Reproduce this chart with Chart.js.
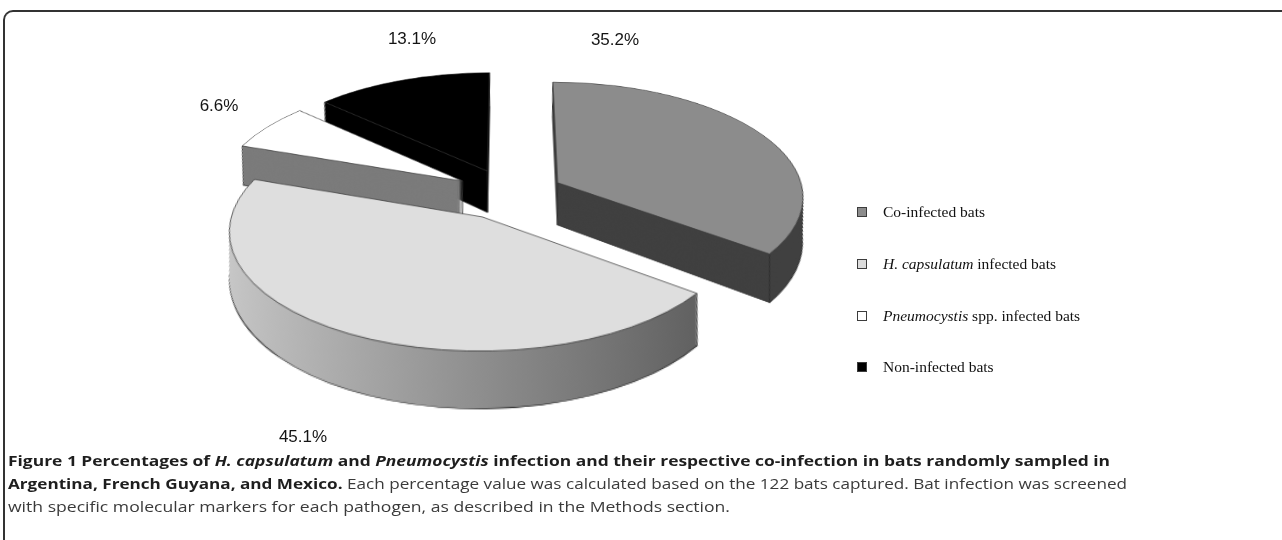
<!DOCTYPE html>
<html>
<head>
<meta charset="utf-8">
<script src="https://cdn.jsdelivr.net/npm/chart.js@4.4.1/dist/chart.umd.min.js"></script>
<style>
html,body{margin:0;padding:0;background:#fff;width:1282px;height:540px;overflow:hidden;}
#frame{position:absolute;left:3px;top:10px;width:1320px;height:620px;border-top:2px solid #333;border-left:2px solid #333;border-top-left-radius:10px;box-sizing:border-box;}
#warp{position:absolute;left:0;top:0;width:1282px;height:540px;transform-origin:509px 194px;transform:perspective(600px) rotateX(30deg);}
#chart{position:absolute;left:0;top:0;}
#labels{position:absolute;left:0;top:0;font-family:"Liberation Sans",Arial,sans-serif;font-size:17px;color:#141414;}
#labels span{position:absolute;transform:translate(-50%,-50%);white-space:nowrap;}
#legend{position:absolute;left:0;top:0;font-family:"Liberation Serif","Times New Roman",serif;font-size:15.5px;color:#111;}
.item{position:absolute;left:857px;white-space:nowrap;display:flex;align-items:center;height:20px;}
.box{width:8px;height:8px;border:1px solid #3c3c3c;margin-right:16px;flex:none;}
#caption{position:absolute;left:8px;top:449px;font-family:"Open Sans","Noto Sans",sans-serif;font-size:15px;line-height:23px;color:#3a3a3a;}
.line{white-space:nowrap;transform-origin:0 0;width:max-content;}
b{color:#1e1e1e;font-weight:700;}
</style>
</head>
<body>
<div id="frame"></div>
<div id="warp"><canvas id="chart" width="1282" height="540"></canvas></div>
<div id="labels"></div>
<div id="legend"></div>
<div id="caption">
  <div class="line" data-w="1102"><b>Figure 1 Percentages of <i>H. capsulatum</i> and <i>Pneumocystis</i> infection and their respective co-infection in bats randomly sampled in</b></div>
  <div class="line" data-w="1119"><b>Argentina, French Guyana, and Mexico.</b> Each percentage value was calculated based on the 122 bats captured. Bat infection was screened</div>
  <div class="line" data-w="722">with specific molecular markers for each pathogen, as described in the Methods section.</div>
</div>
<script>
// ---- data ----
const categories = ['Co-infected bats', 'H. capsulatum infected bats', 'Pneumocystis spp. infected bats', 'Non-infected bats'];
const italicParts = ['', 'H. capsulatum', 'Pneumocystis', ''];
const percentages = [35.2, 45.1, 6.6, 13.1];
const percentLabels = ['35.2%', '45.1%', '6.6%', '13.1%'];

// ---- styles / layout ----
const topColors = ['#8c8c8c', '#dedede', '#ffffff', '#000000'];
const sideColors = ['#404040', 'gradient', '#7b7b7b', '#000000'];
const legendBoxColors = ['#8c8c8c', '#dcdcdc', '#ffffff', '#000000'];
const legendTops = [202, 254, 306, 357];
const labelPositions = [[615, 40], [303, 437], [219, 106], [412, 39]];
const PERSP = 600, TILT = 30 * Math.PI / 180;   // must match #warp CSS

function sideFill(ctx, i) {
  if (sideColors[i] !== 'gradient') return sideColors[i];
  const g = ctx.createLinearGradient(240, 0, 700, 0);
  g.addColorStop(0, '#cdcdcd');
  g.addColorStop(0.5, '#979797');
  g.addColorStop(1, '#626262');
  return g;
}

const pie3d = {
  id: 'pie3d',
  beforeDatasetsDraw(chart, args, opts) {
    const ctx = chart.ctx;
    const arcs = chart.getDatasetMeta(0).data;
    const s = opts.squash, depth = opts.depth, ex = opts.explode, cy = opts.centerY;
    const mid = a => (a.startAngle + a.endAngle) / 2;
    const order = arcs.map((a, i) => i).sort((i, j) => Math.sin(mid(arcs[i])) - Math.sin(mid(arcs[j])));
    // horizontal correction so extruded edges stay vertical after perspective warp
    const corr = k => 1 - k * Math.sin(TILT) / (PERSP - opts.refY * Math.sin(TILT));
    for (const i of order) {
      const a = arcs[i];
      const m = mid(a);
      const dx = Math.cos(m) * ex, dy = Math.sin(m) * ex;
      const ox = a.x;
      const place = k => {
        const f = corr(k);
        ctx.save();
        ctx.translate(ox, 0); ctx.scale(f, 1); ctx.translate(-ox, 0);
        ctx.translate(dx, cy + k);
        ctx.scale(1, s);
        ctx.translate(0, -a.y + dy);
      };
      const orig = a.options;
      const side = Object.assign({}, orig, {backgroundColor: sideFill(ctx, i), borderColor: '#2e2e2e', borderWidth: 1.2, offset: 0});
      a.options = side;
      place(depth); a.draw(ctx); ctx.restore();
      a.options = Object.assign({}, side, {borderWidth: 0});
      for (let k = depth - 1; k >= 1; k--) { place(k); a.draw(ctx); ctx.restore(); }
      // vertical edges at apex and the two outer corners
      const pts = [[a.x, a.y],
        [a.x + Math.cos(a.startAngle) * a.outerRadius, a.y + Math.sin(a.startAngle) * a.outerRadius],
        [a.x + Math.cos(a.endAngle) * a.outerRadius, a.y + Math.sin(a.endAngle) * a.outerRadius]];
      ctx.save();
      ctx.strokeStyle = '#2e2e2e'; ctx.lineWidth = 0.9;
      for (const [px, py] of pts) {
        const X = px + dx, Y = (py - a.y + dy) * s + cy;
        const X2 = ox + (X - ox) * corr(depth);
        ctx.beginPath(); ctx.moveTo(X, Y); ctx.lineTo(X2, Y + depth); ctx.stroke();
      }
      ctx.restore();
      a.options = Object.assign({}, orig, {offset: 0});
      place(0); a.draw(ctx); ctx.restore();
      a.options = orig;
    }
    return false;
  }
};

const chart = new Chart(document.getElementById('chart'), {
  type: 'pie',
  data: {
    labels: categories,
    datasets: [{
      data: percentages,
      backgroundColor: topColors,
      borderColor: '#3a3a3a',
      borderWidth: 1,
      radius: 246
    }]
  },
  options: {
    responsive: false,
    animation: false,
    events: [],
    layout: {padding: {left: 0, right: 264, top: 0, bottom: 0}},
    plugins: {
      legend: {display: false},
      tooltip: {enabled: false},
      pie3d: {squash: 0.535, depth: 48, explode: 55, centerY: 194, refY: 70}
    }
  },
  plugins: [pie3d]
});

// ---- percentage labels (from data) ----
const lab = document.getElementById('labels');
chart.data.datasets[0].data.forEach((v, i) => {
  const sp = document.createElement('span');
  sp.textContent = percentLabels[i];
  sp.style.left = labelPositions[i][0] + 'px';
  sp.style.top = labelPositions[i][1] + 'px';
  lab.appendChild(sp);
});

// ---- legend (HTML, from chart data) ----
const leg = document.getElementById('legend');
chart.data.labels.forEach((text, i) => {
  const it = document.createElement('div');
  it.className = 'item';
  it.style.top = legendTops[i] + 'px';
  const box = document.createElement('span');
  box.className = 'box';
  box.style.background = legendBoxColors[i];
  it.appendChild(box);
  const txt = document.createElement('span');
  const ip = italicParts[i];
  if (ip && text.startsWith(ip)) {
    const em = document.createElement('i');
    em.textContent = ip;
    txt.appendChild(em);
    txt.appendChild(document.createTextNode(text.slice(ip.length)));
  } else {
    txt.textContent = text;
  }
  it.appendChild(txt);
  leg.appendChild(it);
});

// ---- caption fit ----
function fitCaption() {
  document.querySelectorAll('#caption .line').forEach(el => {
    el.style.transform = 'none';
    const w = el.getBoundingClientRect().width;
    el.style.transform = 'scaleX(' + (+el.dataset.w / w) + ')';
  });
}
fitCaption();
if (document.fonts && document.fonts.ready) document.fonts.ready.then(fitCaption);
</script>
</body>
</html>
